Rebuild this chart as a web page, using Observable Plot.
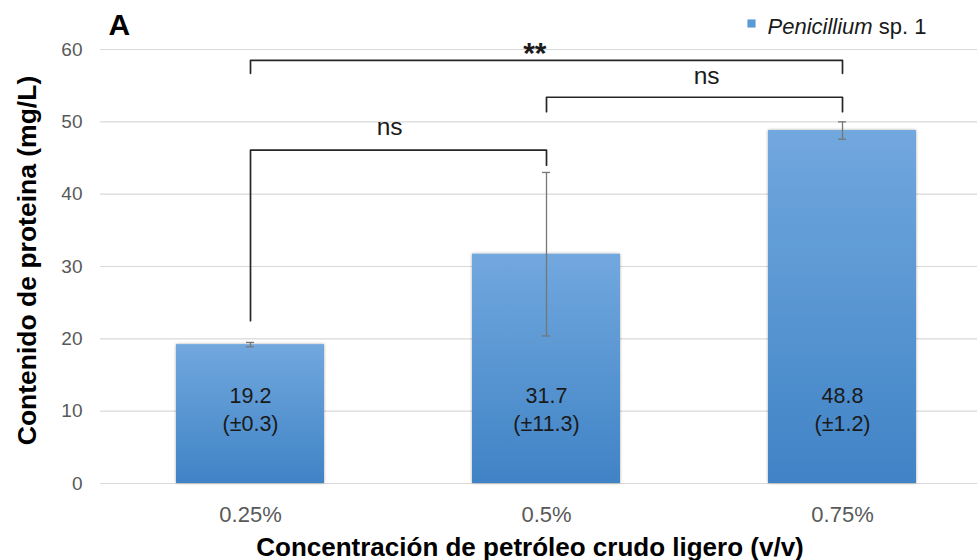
<!DOCTYPE html>
<html>
<head>
<meta charset="utf-8">
<script src="https://cdn.jsdelivr.net/npm/d3@7"></script>
<script src="https://cdn.jsdelivr.net/npm/@observablehq/plot@0.6"></script>
<style>
  html, body { margin: 0; padding: 0; background: #ffffff; }
  #chart { width: 977px; height: 560px; }
</style>
</head>
<body>
<div id="chart"></div>
<script>
// Protein content of Penicillium sp. 1 cultures at three light crude oil concentrations
const concentrations = ["0.25%", "0.5%", "0.75%"];
const proteinMean = [19.2, 31.7, 48.8];   // mg/L
const proteinSd = [0.3, 11.3, 1.2];       // ± mg/L
const yTicks = [0, 10, 20, 30, 40, 50, 60];

// Significance brackets (levels in mg/L)
const bracketFrom = ["0.25%", "0.5%", "0.25%"];
const bracketTo = ["0.75%", "0.75%", "0.5%"];
const bracketTop = [58.5, 53.4, 46.1];
const bracketLegFrom = [56.7, 51.4, 22.5];
const bracketLegTo = [56.7, 51.4, 44.0];
const bracketLabel = ["**", "ns", "ns"];

const seriesName = "Penicillium";
const seriesSuffix = " sp. 1";
const panelLetter = "A";
const yTitle = "Contenido de proteina (mg/L)";
const xTitle = "Concentración de petróleo crudo ligero (v/v)";

const rows = concentrations.map((c, i) => ({conc: c, mean: proteinMean[i], sd: proteinSd[i]}));

const bracketPts = [];
bracketLabel.forEach((lab, i) => {
  bracketPts.push({b: i, x: bracketFrom[i], y: bracketLegFrom[i]});
  bracketPts.push({b: i, x: bracketFrom[i], y: bracketTop[i]});
  bracketPts.push({b: i, x: bracketTo[i], y: bracketTop[i]});
  bracketPts.push({b: i, x: bracketTo[i], y: bracketLegTo[i]});
});

const xRange = [101, 990];
const step = (xRange[1] - xRange[0]) / concentrations.length;

// each bracket label is anchored on its left category and shifted to the bracket middle
function bracketText(i, nudge, opts) {
  const a = concentrations.indexOf(bracketFrom[i]);
  const b = concentrations.indexOf(bracketTo[i]);
  return Plot.text([{x: bracketFrom[i], y: bracketTop[i], lab: bracketLabel[i]}], {
    x: "x", y: "y", text: "lab", dx: (b - a) * step / 2 + nudge, ...opts
  });
}

const font = "'Liberation Sans', Arial, Helvetica, sans-serif";
const barTop = "#71a8de";
const barBottom = "#4083c6";

const chart = Plot.plot({
  width: 977,
  height: 560,
  marginLeft: 100,
  marginRight: 0,
  marginTop: 49,
  marginBottom: 77,
  style: {fontFamily: font, background: "#ffffff", overflow: "visible"},
  x: {type: "band", domain: concentrations, range: xRange, paddingInner: 0.5, paddingOuter: 0.25, label: null},
  y: {domain: [0, 60], label: null},
  marks: [
    Plot.gridY(yTicks, {stroke: "#d9d9d9", strokeOpacity: 1, strokeWidth: 1.2}),
    Plot.axisY({ticks: yTicks, tickSize: 0, tickPadding: 18, fontSize: 19, color: "#595959", label: null}),
    Plot.axisX({tickSize: 0, tickPadding: 23, fontSize: 22, color: "#595959", label: null}),
    Plot.barY(rows, {x: "conc", y: "mean", fill: "url(#barGradient)"}),
    Plot.ruleX(rows, {x: "conc", y1: d => d.mean - d.sd, y2: d => d.mean + d.sd, stroke: "#767676", strokeWidth: 1.3}),
    Plot.tickY(rows, {x: "conc", y: d => d.mean - d.sd, insetLeft: 70, insetRight: 70, stroke: "#767676", strokeWidth: 1.3}),
    Plot.tickY(rows, {x: "conc", y: d => d.mean + d.sd, insetLeft: 70, insetRight: 70, stroke: "#767676", strokeWidth: 1.3}),
    Plot.text(rows, {
      x: "conc", y: 0, dy: -75,
      text: d => `${d.mean.toFixed(1)}\n(±${d.sd.toFixed(1)})`,
      fontSize: 21.5, lineHeight: 1.3, fill: "#1a1a1a"
    }),
    Plot.line(bracketPts, {x: "x", y: "y", z: "b", stroke: "#262626", strokeWidth: 1.7, curve: "linear"}),
    bracketText(0, -12, {fontSize: 30, fontWeight: "bold", fill: "#1a1a1a", lineAnchor: "bottom", dy: 3}),
    bracketText(1, 12, {fontSize: 24.5, fill: "#1a1a1a", lineAnchor: "bottom", dy: -13}),
    bracketText(2, -9, {fontSize: 24.5, fill: "#1a1a1a", lineAnchor: "bottom", dy: -15}),
    Plot.text([panelLetter], {frameAnchor: "top-left", dx: 8, dy: -24, textAnchor: "start", lineAnchor: "middle", fontSize: 30, fontWeight: "bold", fill: "#000"}),
    Plot.dot([seriesName], {frameAnchor: "top-left", dx: 651, dy: -26, symbol: "square", r: 4.6, fill: "#5b9bd5", stroke: "none"}),
    Plot.text([seriesName + seriesSuffix], {frameAnchor: "top-left", dx: 667, dy: -23, textAnchor: "start", lineAnchor: "middle", fontSize: 22, fill: "#1a1a1a"}),
    Plot.text([yTitle], {frameAnchor: "left", dx: -73, dy: -6, rotate: -90, textAnchor: "middle", lineAnchor: "middle", fontSize: 26.5, fontWeight: "bold", fill: "#000"}),
    Plot.text([xTitle], {frameAnchor: "bottom", dx: -9, dy: 64, textAnchor: "middle", lineAnchor: "middle", fontSize: 26, fontWeight: "bold", fill: "#000"})
  ]
});

// gradient fill and soft edge shadow for the bars
const ns = "http://www.w3.org/2000/svg";
const defs = document.createElementNS(ns, "defs");
defs.innerHTML = `
  <linearGradient id="barGradient" x1="0" y1="0" x2="0" y2="1">
    <stop offset="0" stop-color="${barTop}"/>
    <stop offset="1" stop-color="${barBottom}"/>
  </linearGradient>
  <filter id="barShadow" x="-10%" y="-10%" width="120%" height="120%">
    <feGaussianBlur in="SourceAlpha" stdDeviation="1.6"/>
    <feComponentTransfer><feFuncA type="linear" slope="0.35"/></feComponentTransfer>
    <feMerge><feMergeNode/><feMergeNode in="SourceGraphic"/></feMerge>
  </filter>`;
chart.insertBefore(defs, chart.firstChild);
const barGroup = chart.querySelector('g[aria-label="bar"]');
if (barGroup) barGroup.setAttribute("filter", "url(#barShadow)");

// the genus name in the legend is set in italics
chart.querySelectorAll('g[aria-label="text"] text').forEach(t => {
  if (t.textContent === seriesName + seriesSuffix) {
    t.textContent = "";
    const it = document.createElementNS(ns, "tspan");
    it.setAttribute("font-style", "italic");
    it.textContent = seriesName;
    const rest = document.createElementNS(ns, "tspan");
    rest.textContent = seriesSuffix;
    t.appendChild(it);
    t.appendChild(rest);
  }
});

document.getElementById("chart").appendChild(chart);
</script>
</body>
</html>
